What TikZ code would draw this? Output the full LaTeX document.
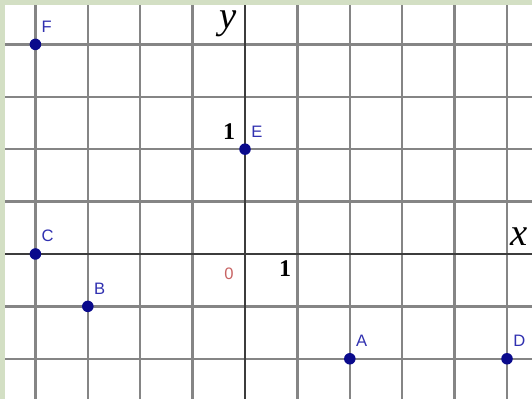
\documentclass[tikz,border=0pt]{standalone}
\usepackage{fontspec}
\setmainfont{Liberation Serif}
\setsansfont{Liberation Sans}
\usepackage{xcolor}
\usepackage{tikz}
\usetikzlibrary{positioning}

\definecolor{frame}{HTML}{D3DFC4}
\definecolor{gridgray}{HTML}{858585}
\definecolor{axisgray}{HTML}{3C3C3C}
\definecolor{ptblue}{HTML}{0A0A8C}
\definecolor{lblblue}{HTML}{3030B0}
\definecolor{zerored}{HTML}{C86464}

\begin{document}
\begin{tikzpicture}[pt/.style={circle, inner sep=0pt, minimum size=0.22cm, fill=ptblue},
  lbl/.style={inner sep=0pt, text=lblblue, font=\sffamily\fontsize{9}{10}\selectfont},
  axlbl/.style={inner sep=0pt, font=\itshape\fontsize{21}{23}\selectfont},
  unitlbl/.style={inner sep=0pt, font=\bfseries\fontsize{13}{14}\selectfont}]
  \useasboundingbox (-4.676,-2.767) rectangle (5.477,4.847);
  \fill[frame] (-4.676,-2.767) rectangle (5.477,4.847);
  \fill[white] (-4.58,-2.767) rectangle (5.477,4.75);
  \begin{scope}
    \clip (-4.58,-2.767) rectangle (5.477,4.75);
    \draw[gridgray, line width=1.3pt] (-4.58,-2.767) grid (5.477,4.75);
    \draw[axisgray, line width=1.6pt] (-4.58,0) -- (5.477,0);
    \draw[axisgray, line width=1.6pt] (0,-2.767) -- (0,4.75);
  \end{scope}
  \node[axlbl] (xlab) at (5.229,0.324) {x};
  \node[axlbl] (ylab) at (-0.324,4.389) {y};
  \node[unitlbl] (onex) at (0.763,-0.286) {1};
  \node[unitlbl] (oney) at (-0.305,2.328) {1};
  \node[inner sep=0pt, text=zerored, font=\sffamily\fontsize{9}{10}\selectfont] (zero) at (-0.305,-0.382) {0};
  % points
  \node[pt] (F) at (-4,4) {};
  \node[pt] (E) at (0,2) {};
  \node[pt] (C) at (-4,0) {};
  \node[pt] (B) at (-3,-1) {};
  \node[pt] (A) at (2,-2) {};
  \node[pt] (D) at (5,-2) {};
  \node[lbl, above right=0.14cm and 0.03cm of F] (labF) {F};
  \node[lbl, above right=0.14cm and 0.03cm of E] (labE) {E};
  \node[lbl, above right=0.14cm and 0.03cm of C] (labC) {C};
  \node[lbl, above right=0.14cm and 0.03cm of B] (labB) {B};
  \node[lbl, above right=0.14cm and 0.03cm of A] (labA) {A};
  \node[lbl, above right=0.14cm and 0.03cm of D] (labD) {D};
\end{tikzpicture}
\end{document}
